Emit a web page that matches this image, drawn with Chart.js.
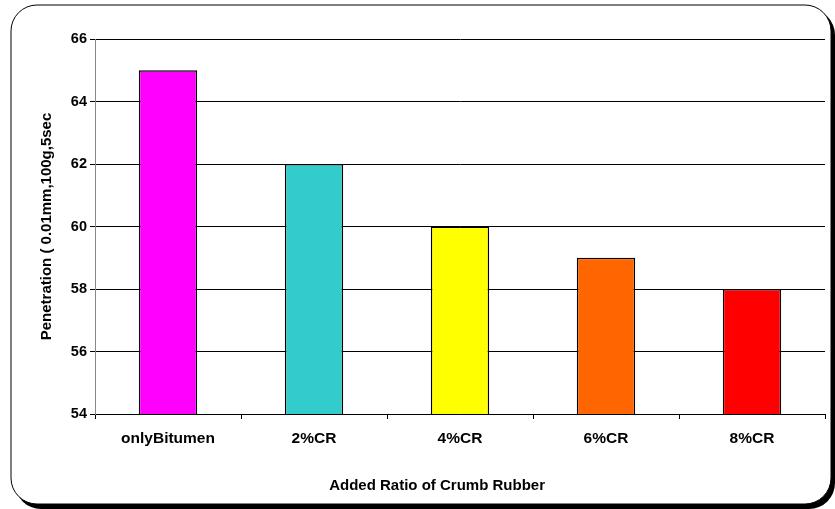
<!DOCTYPE html>
<html>
<head>
<meta charset="utf-8">
<script src="https://cdn.jsdelivr.net/npm/chart.js@4.4.1/dist/chart.umd.min.js"></script>
<style>
  html, body { margin: 0; padding: 0; background: #fff; }
  #wrap { position: relative; width: 835px; height: 509px; }
</style>
</head>
<body>
<div id="wrap"><canvas id="chart" width="835" height="509"></canvas></div>
<script>
const categories = ['onlyBitumen', '2%CR', '4%CR', '6%CR', '8%CR'];
const penetration = [65, 62, 60, 59, 58];
const barColors = ['#FF00FF', '#33CCCC', '#FFFF00', '#FF6600', '#FF0000'];
const yTicks = { min: 54, max: 66, step: 2 };

// rounded frame with dark shadow behind the whole chart
const framePlugin = {
  id: 'frame',
  beforeDraw(chart) {
    const ctx = chart.ctx;
    ctx.save();
    ctx.fillStyle = '#000';
    ctx.beginPath();
    ctx.roundRect(15, 9, 820, 500, 26);
    ctx.fill();
    ctx.fillStyle = '#fff';
    ctx.beginPath();
    ctx.roundRect(11, 5, 820, 499, 26);
    ctx.fill();
    ctx.lineWidth = 1;
    ctx.strokeStyle = '#000';
    ctx.stroke();
    ctx.restore();
  }
};

const ctx = document.getElementById('chart').getContext('2d');
new Chart(ctx, {
  type: 'bar',
  data: {
    labels: categories,
    datasets: [{
      data: penetration,
      backgroundColor: barColors,
      borderColor: '#000',
      borderWidth: 1.5,
      borderSkipped: false,
      barPercentage: 0.4,
      categoryPercentage: 1
    }]
  },
  options: {
    responsive: false,
    animation: false,
    layout: { padding: { left: 0, right: 10, top: 39, bottom: 10 } },
    plugins: { legend: { display: false }, tooltip: { enabled: false } },
    scales: {
      x: {
        grid: { offset: true, drawOnChartArea: false, color: '#000', tickLength: 5 },
        border: { color: '#000', width: 1 },
        ticks: { color: '#000', padding: 10, font: { family: 'Liberation Sans, Arial', size: 15.5, weight: 'bold' } },
        title: {
          display: true, text: 'Added Ratio of Crumb Rubber           ', color: '#000',
          padding: { top: 0, bottom: 4 },
          font: { family: 'Liberation Sans, Arial', size: 15, weight: 'bold' }
        },
        afterFit(scale) { scale.height = 85; }
      },
      y: {
        min: yTicks.min, max: yTicks.max,
        grid: { color: '#000', tickLength: 5 },
        border: { color: '#888', width: 1 },
        ticks: { stepSize: yTicks.step, color: '#000', padding: 3, font: { family: 'Liberation Sans, Arial', size: 14.5, weight: 'bold' } },
        title: {
          display: true, text: 'Penetration ( 0.01mm,100g,5sec', color: '#000',
          padding: { top: 38, bottom: 0 },
          font: { family: 'Liberation Sans, Arial', size: 15, weight: 'bold' }
        },
        afterFit(scale) { scale.width = 95; }
      }
    }
  },
  plugins: [framePlugin]
});
</script>
</body>
</html>
